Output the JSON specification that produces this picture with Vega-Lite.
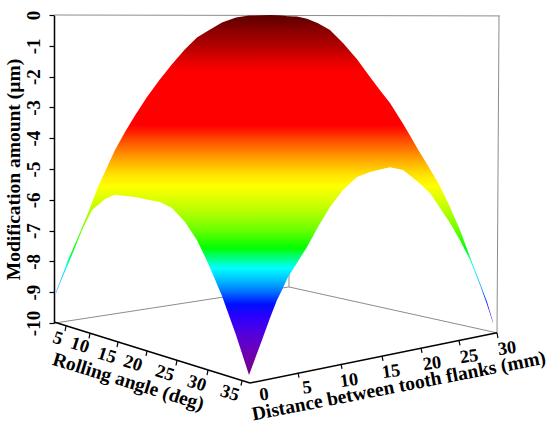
{
  "$schema": "https://vega.github.io/schema/vega-lite/v6.json",
  "width": 496,
  "height": 308,
  "autosize": "none",
  "padding": {"left": 54, "top": 15, "right": 0, "bottom": 108},
  "background": "white",
  "config": {"view": {"stroke": null}},
  "datasets": {
    "surface": [
      {"h": 56, "v": -8.99, "v2": -9.03},
      {"h": 60, "v": -8.65, "v2": -8.70},
      {"h": 64, "v": -8.30, "v2": -8.40},
      {"h": 68, "v": -7.95, "v2": -8.10},
      {"h": 72, "v": -7.66, "v2": -7.79},
      {"h": 76, "v": -7.36, "v2": -7.47},
      {"h": 80, "v": -7.05, "v2": -7.14},
      {"h": 84, "v": -6.74, "v2": -6.85},
      {"h": 88, "v": -6.43, "v2": -6.59},
      {"h": 92, "v": -6.09, "v2": -6.33},
      {"h": 98, "v": -5.58, "v2": -6.17},
      {"h": 105, "v": -5.09, "v2": -5.97},
      {"h": 115, "v": -4.38, "v2": -5.84},
      {"h": 125, "v": -3.80, "v2": -5.88},
      {"h": 135, "v": -3.26, "v2": -5.91},
      {"h": 147, "v": -2.66, "v2": -5.99},
      {"h": 160, "v": -2.09, "v2": -6.07},
      {"h": 172, "v": -1.60, "v2": -6.27},
      {"h": 185, "v": -1.11, "v2": -6.72},
      {"h": 197, "v": -0.73, "v2": -7.31},
      {"h": 208, "v": -0.51, "v2": -8.05},
      {"h": 222, "v": -0.24, "v2": -9.12},
      {"h": 236, "v": -0.08, "v2": -10.39},
      {"h": 249, "v": -0.02, "v2": -11.69},
      {"h": 262, "v": -0.01, "v2": -10.55},
      {"h": 270, "v": 0, "v2": -9.84},
      {"h": 277, "v": -0.01, "v2": -9.25},
      {"h": 282, "v": -0.02, "v2": -8.93},
      {"h": 288, "v": -0.04, "v2": -8.51},
      {"h": 297, "v": -0.05, "v2": -8.05},
      {"h": 307, "v": -0.12, "v2": -7.53},
      {"h": 318, "v": -0.27, "v2": -6.88},
      {"h": 330, "v": -0.49, "v2": -6.23},
      {"h": 343, "v": -0.91, "v2": -5.68},
      {"h": 357, "v": -1.44, "v2": -5.26},
      {"h": 370, "v": -2.01, "v2": -5.10},
      {"h": 380, "v": -2.44, "v2": -5.02},
      {"h": 390, "v": -2.86, "v2": -4.94},
      {"h": 403, "v": -3.53, "v2": -5.03},
      {"h": 410, "v": -3.91, "v2": -5.21},
      {"h": 418, "v": -4.37, "v2": -5.42},
      {"h": 430, "v": -5.00, "v2": -5.78},
      {"h": 440, "v": -5.56, "v2": -6.27},
      {"h": 450, "v": -6.23, "v2": -6.75},
      {"h": 460, "v": -6.98, "v2": -7.31},
      {"h": 470, "v": -7.86, "v2": -7.95},
      {"h": 480, "v": -8.70, "v2": -8.77},
      {"h": 487, "v": -9.31, "v2": -9.40},
      {"h": 493, "v": -9.97, "v2": -10.0}
    ],
    "frame": [
      {"h": 54, "v": 0, "h2": 500, "v2": -0.03},
      {"h": 499, "v": -0.03, "h2": 497, "v2": -10.32},
      {"h": 289, "v": 0, "h2": 289, "v2": -8.83},
      {"h": 55, "v": -10.0, "h2": 289, "v2": -8.83},
      {"h": 289, "v": -8.83, "h2": 497, "v2": -10.32}
    ],
    "floorAxes": [
      {"h": 54, "v": -9.97, "h2": 250, "v2": -11.95},
      {"h": 250, "v": -11.95, "h2": 497, "v2": -10.32}
    ],
    "ticks": [
      {"h": 66, "v": -10.10, "h2": 65, "v2": -10.26},
      {"h": 90, "v": -10.34, "h2": 89, "v2": -10.50},
      {"h": 118, "v": -10.62, "h2": 117, "v2": -10.78},
      {"h": 147, "v": -10.91, "h2": 146, "v2": -11.07},
      {"h": 177, "v": -11.21, "h2": 176, "v2": -11.38},
      {"h": 208, "v": -11.53, "h2": 207, "v2": -11.69},
      {"h": 242, "v": -11.87, "h2": 241, "v2": -12.03},
      {"h": 298, "v": -11.61, "h2": 299, "v2": -11.77},
      {"h": 341, "v": -11.33, "h2": 342, "v2": -11.49},
      {"h": 382, "v": -11.07, "h2": 383, "v2": -11.23},
      {"h": 421, "v": -10.81, "h2": 422, "v2": -10.97},
      {"h": 459, "v": -10.57, "h2": 460, "v2": -10.73},
      {"h": 497, "v": -10.32, "h2": 498, "v2": -10.49}
    ],
    "angleLabels": [
      {"h": 58, "v": -10.49, "t": "5"},
      {"h": 80, "v": -10.71, "t": "10"},
      {"h": 107, "v": -11.04, "t": "15"},
      {"h": 133, "v": -11.30, "t": "20"},
      {"h": 165, "v": -11.62, "t": "25"},
      {"h": 197, "v": -11.95, "t": "30"},
      {"h": 230, "v": -12.27, "t": "35"}
    ],
    "distLabels": [
      {"h": 264, "v": -12.31, "t": "0"},
      {"h": 307, "v": -12.08, "t": "5"},
      {"h": 349, "v": -11.85, "t": "10"},
      {"h": 391, "v": -11.56, "t": "15"},
      {"h": 432, "v": -11.30, "t": "20"},
      {"h": 469, "v": -11.07, "t": "25"},
      {"h": 507, "v": -10.81, "t": "30"}
    ],
    "angleTitle": [{"h": 126.5, "v": -12.09, "t": "Rolling angle (deg)"}],
    "distTitle": [{"h": 400, "v": -12.24, "t": "Distance between tooth flanks (mm)"}]
  },
  "encoding": {
    "x": {"field": "h", "type": "quantitative", "scale": {"domain": [54, 550], "nice": false, "zero": false}, "axis": null},
    "y": {
      "field": "v",
      "type": "quantitative",
      "scale": {"domain": [-10, 0], "nice": false, "zero": false},
      "axis": {
        "title": "Modification amount (µm)",
        "values": [-10, -9, -8, -7, -6, -5, -4, -3, -2, -1, 0],
        "labelExpr": "datum.value + ''",
        "grid": false,
        "domainColor": "black",
        "domainWidth": 1.5,
        "tickColor": "black",
        "tickWidth": 1.2,
        "tickSize": 5,
        "labelAngle": -90,
        "labelAlign": "center",
        "labelBaseline": "bottom",
        "labelPadding": 6,
        "labelFont": "Liberation Serif",
        "labelFontWeight": "bold",
        "labelFontSize": 19,
        "labelColor": "black",
        "titleFont": "Liberation Serif",
        "titleFontWeight": "bold",
        "titleFontSize": 19.5,
        "titleColor": "black",
        "titlePadding": 1
      }
    }
  },
  "layer": [
    {
      "data": {"name": "frame"},
      "mark": {"type": "rule", "color": "#8c8c8c", "strokeWidth": 1},
      "encoding": {"x2": {"field": "h2"}, "y2": {"field": "v2"}}
    },
    {
      "data": {"name": "surface"},
      "mark": {
        "type": "area",
        "interpolate": "linear",
        "strokeWidth": 0.8,
        "color": {
          "gradient": "linear",
          "x1": 0, "y1": 0, "x2": 0, "y2": 1,
          "stops": [
            {"offset": 0, "color": "#5a0000"},
            {"offset": 0.042, "color": "#8a0000"},
            {"offset": 0.083, "color": "#b00000"},
            {"offset": 0.125, "color": "#e00000"},
            {"offset": 0.158, "color": "#ff0000"},
            {"offset": 0.306, "color": "#ff0000"},
            {"offset": 0.325, "color": "#ff2000"},
            {"offset": 0.347, "color": "#ff4a00"},
            {"offset": 0.369, "color": "#ff7000"},
            {"offset": 0.394, "color": "#ff9900"},
            {"offset": 0.419, "color": "#ffc000"},
            {"offset": 0.447, "color": "#ffe600"},
            {"offset": 0.475, "color": "#ffff00"},
            {"offset": 0.514, "color": "#d8ff00"},
            {"offset": 0.556, "color": "#a8ff00"},
            {"offset": 0.603, "color": "#60ff00"},
            {"offset": 0.647, "color": "#00ff00"},
            {"offset": 0.675, "color": "#00ff80"},
            {"offset": 0.703, "color": "#00ffff"},
            {"offset": 0.736, "color": "#00c0ff"},
            {"offset": 0.769, "color": "#0070ff"},
            {"offset": 0.803, "color": "#0010ff"},
            {"offset": 0.836, "color": "#2800ff"},
            {"offset": 0.881, "color": "#5000e0"},
            {"offset": 0.925, "color": "#6800c0"},
            {"offset": 1, "color": "#780080"}
          ]
        }
      },
      "encoding": {"y2": {"field": "v2"}}
    },
    {
      "data": {"name": "floorAxes"},
      "mark": {"type": "rule", "color": "black", "strokeWidth": 1.5},
      "encoding": {"x2": {"field": "h2"}, "y2": {"field": "v2"}}
    },
    {
      "data": {"name": "ticks"},
      "mark": {"type": "rule", "color": "black", "strokeWidth": 1.2},
      "encoding": {"x2": {"field": "h2"}, "y2": {"field": "v2"}}
    },
    {
      "data": {"name": "angleLabels"},
      "mark": {"type": "text", "font": "Liberation Serif", "fontWeight": "bold", "fontSize": 18.5, "angle": 18, "align": "center", "baseline": "middle", "color": "black"},
      "encoding": {"text": {"field": "t"}}
    },
    {
      "data": {"name": "distLabels"},
      "mark": {"type": "text", "font": "Liberation Serif", "fontWeight": "bold", "fontSize": 18.5, "angle": -8, "align": "center", "baseline": "middle", "color": "black"},
      "encoding": {"text": {"field": "t"}}
    },
    {
      "data": {"name": "angleTitle"},
      "mark": {"type": "text", "font": "Liberation Serif", "fontWeight": "bold", "fontSize": 19.5, "angle": 17, "align": "center", "baseline": "alphabetic", "color": "black"},
      "encoding": {"text": {"field": "t"}}
    },
    {
      "data": {"name": "distTitle"},
      "mark": {"type": "text", "font": "Liberation Serif", "fontWeight": "bold", "fontSize": 19.5, "angle": -11, "align": "center", "baseline": "alphabetic", "color": "black"},
      "encoding": {"text": {"field": "t"}}
    }
  ]
}
